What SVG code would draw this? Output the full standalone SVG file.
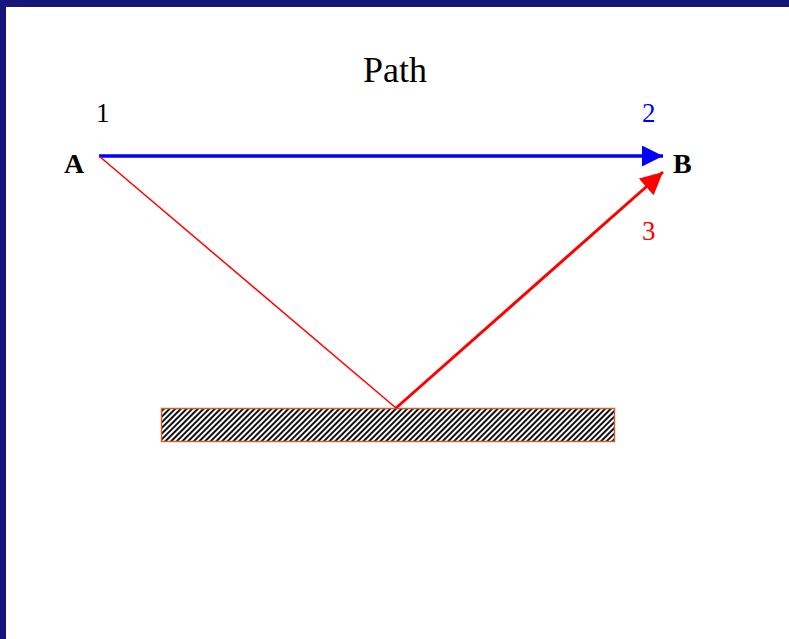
<svg xmlns="http://www.w3.org/2000/svg" width="789" height="639" viewBox="0 0 789 639">
<style>
.t{font-family:"Liberation Serif","Times New Roman",serif;}
.lbl{font-size:27px;}
.bold{font-size:28px;font-weight:bold;}
</style>
<defs>
<pattern id="hatch" width="4" height="4" patternUnits="userSpaceOnUse" patternTransform="rotate(45)">
<rect width="4" height="4" fill="#ffffff"/>
<rect x="0" y="0" width="2" height="4" fill="#111111"/>
</pattern>
<marker id="arrBlue" viewBox="0 0 10 10" refX="10" refY="5" markerWidth="6" markerHeight="6" markerUnits="strokeWidth" orient="auto">
<path d="M0,0 L10,5 L0,10 z" fill="#0000ff"/>
</marker>
<marker id="arrRed" viewBox="0 0 10 10" refX="10" refY="5" markerWidth="7.5" markerHeight="7.5" markerUnits="strokeWidth" orient="auto">
<path d="M0,0 L10,5 L0,10 z" fill="#ff0000"/>
</marker>
</defs>
<rect width="789" height="639" fill="#15157a"/>
<rect x="6" y="7" width="783" height="632" fill="#ffffff"/>
<text class="t" x="395" y="82" font-size="36" text-anchor="middle" fill="#000">Path</text>
<g id="surface">
<rect x="161.5" y="408.5" width="453" height="33" fill="url(#hatch)" stroke="#c86432" stroke-width="1.5"/>
</g>
<g id="nodeA">
<text class="t bold" x="64" y="173" fill="#000">A</text>
<text class="t lbl" x="96" y="122" fill="#000">1</text>
</g>
<g id="nodeB">
<text class="t bold" x="673" y="173" fill="#000">B</text>
<text class="t lbl" x="642" y="122" fill="#0000ff">2</text>
<text class="t lbl" x="642" y="240" fill="#ff0000">3</text>
</g>
<g id="connectors">
<line x1="99" y1="156" x2="663" y2="156" stroke="#0000ff" stroke-width="3.5" marker-end="url(#arrBlue)"/>
<line x1="99" y1="156" x2="396" y2="408" stroke="#ff0000" stroke-width="1.5"/>
<line x1="396" y1="408" x2="663" y2="172" stroke="#ff0000" stroke-width="3" marker-end="url(#arrRed)"/>
</g>
</svg>
